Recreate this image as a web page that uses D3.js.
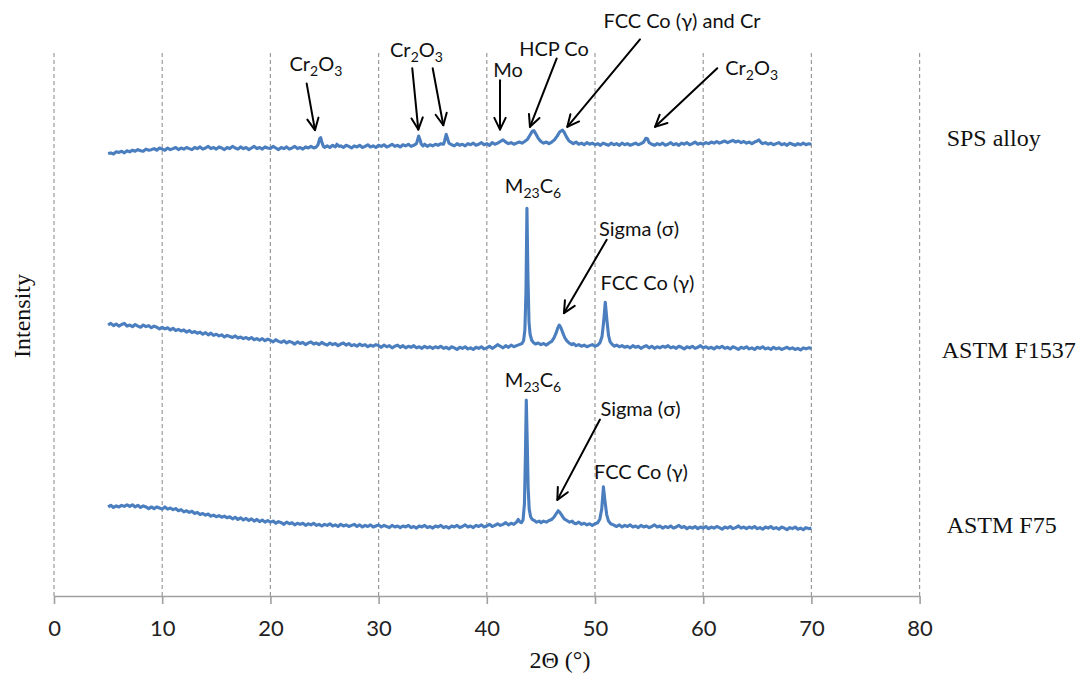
<!DOCTYPE html>
<html>
<head>
<meta charset="utf-8">
<script src="https://cdn.jsdelivr.net/npm/d3@7"></script>
<style>
  body { margin: 0; background: #fff; }
  svg { display: block; }
</style>
</head>
<body>
<svg id="chart" width="1088" height="681"></svg>
<script>
// X-ray diffraction patterns: [2θ (°), intensity (a.u., stacked offsets)]
const xTicks = [0, 10, 20, 30, 40, 50, 60, 70, 80];

const spsAlloy = [
  [5,815],[5.25,816],[5.5,814],[5.75,818],[6,817],[6.25,819],[6.5,816],[6.75,820],[7,818],[7.25,821],[7.5,819],[7.75,822],
  [8,820],[8.25,819],[8.5,823],[8.75,821],[9,822],[9.25,824],[9.5,821],[9.75,825],[10,823],[10.25,821],[10.5,825],[10.75,822],
  [11,824],[11.25,826],[11.5,822],[11.75,825],[12,823],[12.25,826],[12.5,824],[12.75,822],[13,826],[13.25,824],[13.5,827],[13.75,823],
  [14,825],[14.25,828],[14.5,824],[14.75,826],[15,823],[15.25,827],[15.5,825],[15.75,822],[16,826],[16.25,824],[16.5,828],[16.75,825],
  [17,823],[17.25,827],[17.5,824],[17.75,826],[18,822],[18.25,825],[18.5,828],[18.75,824],[19,826],[19.25,823],[19.5,827],[19.75,825],
  [20,824],[20.25,828],[20.5,825],[20.75,822],[21,826],[21.25,824],[21.5,827],[21.75,823],[22,825],[22.25,828],[22.5,824],[22.75,826],
  [23,823],[23.25,827],[23.5,825],[23.75,828],[24,825],[24.25,827],[24.4,831],[24.55,842],[24.65,844],[24.75,836],[24.9,828],[25,826],
  [25.25,829],[25.5,826],[25.75,830],[26,827],[26.15,832],[26.35,828],[26.5,829],[26.75,826],[27,830],[27.25,828],[27.5,825],[27.75,829],
  [28,827],[28.25,830],[28.5,826],[28.75,828],[29,831],[29.25,827],[29.5,829],[29.75,826],[30,830],[30.25,828],[30.5,831],[30.75,827],
  [31,829],[31.25,832],[31.5,828],[31.75,830],[32,827],[32.25,831],[32.5,829],[32.75,832],[33,828],[33.25,830],[33.5,833],[33.6,840],
  [33.7,847],[33.8,842],[33.95,832],[34.1,829],[34.25,832],[34.5,828],[34.75,831],[35,829],[35.25,832],[35.5,830],[35.75,833],[36,832],
  [36.1,838],[36.25,850],[36.35,844],[36.5,834],[36.75,831],[37,829],[37.25,833],[37.5,830],[37.75,832],[38,829],[38.25,833],[38.5,831],
  [38.75,834],[39,830],[39.25,832],[39.5,835],[39.75,831],[40,833],[40.25,830],[40.5,835],[40.75,832],[41,834],[41.25,837],[41.5,840],
  [41.75,836],[42,833],[42.25,835],[42.5,832],[42.75,834],[43,836],[43.25,834],[43.5,837],[43.75,841],[44,849],[44.2,856],[44.35,857],
  [44.5,852],[44.75,843],[45,837],[45.25,834],[45.5,836],[45.75,833],[46,836],[46.25,840],[46.5,847],[46.75,855],[47,858],[47.15,854],
  [47.35,846],[47.6,838],[47.85,835],[48,833],[48.25,836],[48.5,832],[48.75,834],[49,831],[49.25,835],[49.5,832],[49.75,834],[50,831],
  [50.25,833],[50.5,830],[50.75,834],[51,832],[51.25,830],[51.5,834],[51.75,831],[52,833],[52.25,830],[52.5,834],[52.75,831],[53,833],
  [53.25,830],[53.5,832],[53.75,834],[54,831],[54.25,833],[54.5,836],[54.7,843],[54.85,842],[55,835],[55.25,832],[55.5,830],[55.75,833],
  [56,831],[56.25,834],[56.5,830],[56.75,832],[57,835],[57.25,831],[57.5,833],[57.75,830],[58,834],[58.25,832],[58.5,835],[58.75,831],
  [59,833],[59.25,836],[59.5,832],[59.75,834],[60,832],[60.25,835],[60.5,833],[60.75,836],[61,834],[61.25,837],[61.5,834],[61.75,836],
  [62,838],[62.25,835],[62.5,837],[62.75,839],[63,836],[63.25,838],[63.5,835],[63.75,837],[64,834],[64.25,836],[64.5,833],[64.75,836],
  [65,838],[65.15,840],[65.35,835],[65.5,833],[65.75,835],[66,832],[66.25,834],[66.5,831],[66.75,833],[67,835],[67.25,831],[67.5,833],
  [67.75,830],[68,834],[68.25,832],[68.5,830],[68.75,833],[69,831],[69.25,834],[69.5,831],[69.75,833],[70,832]
];

const astmF1537 = [
  [5,499],[5.25,502],[5.5,498],[5.75,501],[6,497],[6.25,500],[6.5,502],[6.75,497],[7,499],[7.25,496],[7.5,500],[7.75,497],
  [8,495],[8.25,499],[8.5,496],[8.75,498],[9,494],[9.25,497],[9.5,495],[9.75,492],[10,495],[10.25,492],[10.5,494],[10.75,490],
  [11,493],[11.25,489],[11.5,491],[11.75,488],[12,490],[12.25,486],[12.5,489],[12.75,485],[13,487],[13.25,484],[13.5,486],[13.75,482],
  [14,485],[14.25,481],[14.5,484],[14.75,480],[15,482],[15.25,479],[15.5,481],[15.75,477],[16,480],[16.25,478],[16.5,476],[16.75,479],
  [17,475],[17.25,477],[17.5,474],[17.75,476],[18,473],[18.25,476],[18.5,472],[18.75,474],[19,471],[19.25,474],[19.5,470],[19.75,473],
  [20,471],[20.25,468],[20.5,472],[20.75,469],[21,467],[21.25,470],[21.5,466],[21.75,469],[22,467],[22.25,464],[22.5,468],[22.75,465],
  [23,467],[23.25,463],[23.5,466],[23.75,468],[24,464],[24.25,466],[24.5,463],[24.75,467],[25,464],[25.25,462],[25.5,466],[25.75,463],
  [26,465],[26.25,461],[26.5,464],[26.75,466],[27,462],[27.25,465],[27.5,461],[27.75,463],[28,460],[28.25,464],[28.5,461],[28.75,463],
  [29,459],[29.25,462],[29.5,460],[29.75,463],[30,461],[30.25,458],[30.5,462],[30.75,459],[31,461],[31.25,457],[31.5,460],[31.75,462],
  [32,458],[32.25,461],[32.5,457],[32.75,460],[33,458],[33.25,461],[33.5,457],[33.75,459],[34,456],[34.25,460],[34.5,457],[34.75,459],
  [35,456],[35.25,459],[35.5,457],[35.75,460],[36,456],[36.25,458],[36.5,455],[36.75,459],[37,457],[37.25,454],[37.5,458],[37.75,456],
  [38,459],[38.25,455],[38.5,457],[38.75,454],[39,458],[39.25,456],[39.5,459],[39.75,455],[40,457],[40.25,460],[40.5,456],[40.75,459],
  [41,463],[41.25,460],[41.5,457],[41.75,461],[42,458],[42.25,462],[42.5,459],[42.75,461],[43,463],[43.25,465],[43.4,470],[43.52,490],
  [43.62,560],[43.71,714],[43.8,590],[43.9,505],[44,482],[44.15,471],[44.3,467],[44.5,464],[44.75,466],[45,463],[45.25,465],[45.5,462],
  [45.75,466],[46,469],[46.2,475],[46.4,484],[46.55,493],[46.7,499],[46.85,494],[47,486],[47.2,476],[47.4,470],[47.6,466],[47.85,463],
  [48,465],[48.25,461],[48.5,463],[48.75,460],[49,462],[49.25,459],[49.5,461],[49.75,463],[50,460],[50.25,462],[50.45,466],[50.65,478],
  [50.8,505],[50.95,541],[51.1,508],[51.25,480],[51.4,468],[51.6,463],[51.8,460],[52,462],[52.25,459],[52.5,461],[52.75,458],[53,460],
  [53.25,457],[53.5,461],[53.75,458],[54,460],[54.25,456],[54.5,459],[54.75,461],[55,457],[55.25,460],[55.5,456],[55.75,459],[56,457],
  [56.25,460],[56.5,458],[56.75,461],[57,457],[57.25,459],[57.5,456],[57.75,460],[58,458],[58.25,455],[58.5,459],[58.75,457],[59,460],
  [59.25,456],[59.5,458],[59.75,461],[60,457],[60.25,459],[60.5,456],[60.75,458],[61,455],[61.25,459],[61.5,457],[61.75,460],[62,456],
  [62.25,458],[62.5,455],[62.75,459],[63,457],[63.25,454],[63.5,458],[63.75,456],[64,459],[64.25,455],[64.5,457],[64.75,454],[65,458],
  [65.25,456],[65.5,459],[65.75,455],[66,457],[66.25,454],[66.5,458],[66.75,455],[67,457],[67.25,454],[67.5,456],[67.75,458],[68,455],
  [68.25,457],[68.5,454],[68.75,456],[69,453],[69.25,457],[69.5,455],[69.75,457],[70,456]
];

const astmF75 = [
  [5,164],[5.25,167],[5.5,163],[5.75,166],[6,164],[6.25,167],[6.5,165],[6.75,168],[7,165],[7.25,168],[7.5,164],[7.75,167],
  [8,163],[8.25,166],[8.5,164],[8.75,161],[9,164],[9.25,161],[9.5,164],[9.75,162],[10,160],[10.25,164],[10.5,160],[10.75,162],
  [11,159],[11.25,161],[11.5,157],[11.75,159],[12,155],[12.25,157],[12.5,154],[12.75,156],[13,152],[13.25,154],[13.5,150],[13.75,152],
  [14,149],[14.25,151],[14.5,147],[14.75,149],[15,146],[15.25,148],[15.5,145],[15.75,147],[16,144],[16.25,146],[16.5,142],[16.75,145],
  [17,141],[17.25,144],[17.5,140],[17.75,143],[18,139],[18.25,142],[18.5,138],[18.75,141],[19,137],[19.25,140],[19.5,136],[19.75,139],
  [20,136],[20.25,138],[20.5,134],[20.75,137],[21,135],[21.25,132],[21.5,136],[21.75,133],[22,135],[22.25,131],[22.5,134],[22.75,132],
  [23,134],[23.25,130],[23.5,133],[23.75,131],[24,134],[24.25,130],[24.5,132],[24.75,129],[25,132],[25.25,130],[25.5,133],[25.75,129],
  [26,131],[26.25,128],[26.5,132],[26.75,129],[27,131],[27.25,128],[27.5,130],[27.75,132],[28,128],[28.25,131],[28.5,127],[28.75,130],
  [29,128],[29.25,131],[29.5,127],[29.75,129],[30,131],[30.25,127],[30.5,130],[30.75,128],[31,126],[31.25,130],[31.5,127],[31.75,129],
  [32,126],[32.25,129],[32.5,127],[32.75,130],[33,126],[33.25,128],[33.5,125],[33.75,129],[34,127],[34.25,130],[34.5,126],[34.75,128],
  [35,125],[35.25,129],[35.5,127],[35.75,130],[36,126],[36.25,128],[36.5,125],[36.75,129],[37,127],[37.25,130],[37.5,126],[37.75,128],
  [38,131],[38.25,127],[38.5,129],[38.75,126],[39,130],[39.25,128],[39.5,131],[39.75,127],[40,129],[40.25,132],[40.5,128],[40.75,130],
  [41,133],[41.25,130],[41.5,132],[41.75,135],[42,131],[42.25,134],[42.5,132],[42.75,136],[42.9,141],[43.05,137],[43.2,135],[43.35,140],
  [43.48,170],[43.57,260],[43.65,361],[43.73,290],[43.82,200],[43.92,160],[44.05,146],[44.2,141],[44.4,139],[44.6,136],[44.85,138],[45,135],
  [45.25,138],[45.5,136],[45.75,139],[46,141],[46.2,145],[46.4,151],[46.6,157],[46.75,154],[46.95,148],[47.15,142],[47.4,139],[47.65,136],
  [47.9,138],[48,135],[48.25,133],[48.5,136],[48.75,132],[49,134],[49.25,131],[49.5,133],[49.75,130],[50,133],[50.25,135],[50.45,142],
  [50.62,160],[50.78,201],[50.92,175],[51.08,150],[51.25,138],[51.45,133],[51.7,131],[52,128],[52.25,131],[52.5,127],[52.75,130],[53,128],
  [53.25,131],[53.5,127],[53.75,129],[54,126],[54.25,130],[54.5,127],[54.75,129],[55,126],[55.25,128],[55.5,131],[55.75,127],[56,129],
  [56.25,125],[56.5,128],[56.75,126],[57,129],[57.25,125],[57.5,127],[57.75,130],[58,126],[58.25,128],[58.5,124],[58.75,127],[59,125],
  [59.25,128],[59.5,124],[59.75,127],[60,125],[60.25,128],[60.5,124],[60.75,127],[61,125],[61.25,128],[61.5,126],[61.75,123],[62,127],
  [62.25,125],[62.5,128],[62.75,124],[63,126],[63.25,129],[63.5,125],[63.75,127],[64,124],[64.25,127],[64.5,125],[64.75,128],[65,124],
  [65.25,126],[65.5,123],[65.75,127],[66,125],[66.25,128],[66.5,124],[66.75,126],[67,123],[67.25,127],[67.5,125],[67.75,122],[68,126],
  [68.25,124],[68.5,127],[68.75,123],[69,125],[69.25,122],[69.5,126],[69.75,124],[70,125]
];

const seriesNames = ["SPS alloy", "ASTM F1537", "ASTM F75"];
// anchor of each series name, in [2θ, intensity]
const seriesNameAnchors = [[82.5, 829], [82.05, 438], [82.5, 116]];

// phase labels: text parts ([text, isSubscript]) and anchor [2θ, intensity]
const peakLabels = [
  { parts: [["Cr",0],["2",1],["O",0],["3",1]], at: [24.2, 967] },
  { parts: [["Cr",0],["2",1],["O",0],["3",1]], at: [33.5, 993] },
  { parts: [["Mo",0]], at: [41.96, 956] },
  { parts: [["HCP Co",0]], at: [46.21, 994] },
  { parts: [["FCC Co (γ) and Cr",0]], at: [58.04, 1046] },
  { parts: [["Cr",0],["2",1],["O",0],["3",1]], at: [64.48, 959] },
  { parts: [["M",0],["23",1],["C",0],["6",1]], at: [44.27, 742] },
  { parts: [["Sigma (σ)",0]], at: [54.07, 663] },
  { parts: [["FCC Co (γ)",0]], at: [54.85, 564] },
  { parts: [["M",0],["23",1],["C",0],["6",1]], at: [44.27, 385] },
  { parts: [["Sigma (σ)",0]], at: [54.2, 331] },
  { parts: [["FCC Co (γ)",0]], at: [54.25, 215] }
];

// pointer arrows: [from 2θ, from I, to 2θ, to I]
const peakArrows = [
  [23.35, 944, 24.12, 858],
  [33.11, 972, 33.67, 859],
  [35.0, 972, 35.98, 867],
  [41.22, 950, 41.22, 859],
  [46.46, 990, 43.99, 864],
  [54.16, 1025, 47.44, 864],
  [61.3, 972, 55.55, 864],
  [51.08, 656, 47.13, 521],
  [50.46, 325, 46.52, 177]
];

const plot = { left: 54, right: 919.6, top: 53, bottom: 596 };

const svg = d3.select("#chart");
const x = d3.scaleLinear().domain([0, 80]).range([plot.left, plot.right]);
const y = d3.scaleLinear().domain([0, 1000]).range([plot.bottom, plot.top]);

// dashed vertical gridlines
svg.append("g")
  .selectAll("line")
  .data(xTicks)
  .join("line")
  .attr("x1", d => x(d)).attr("x2", d => x(d))
  .attr("y1", y(0)).attr("y2", y(1000))
  .attr("stroke", "#9a9a9a")
  .attr("stroke-width", 1.2)
  .attr("stroke-dasharray", "4,3");

// bottom axis
const xAxis = svg.append("g")
  .attr("transform", `translate(0,${plot.bottom})`)
  .call(d3.axisBottom(x).tickValues(xTicks).tickSize(8).tickPadding(16).tickSizeOuter(0));
xAxis.select(".domain").attr("stroke", "#a0a0a0").attr("stroke-width", 1.6);
xAxis.selectAll(".tick line").attr("stroke", "#a0a0a0").attr("stroke-width", 1.6);
xAxis.selectAll(".tick text")
  .attr("font-family", "Lato, sans-serif")
  .attr("font-size", 22)
  .attr("fill", "#222");

// axis titles
svg.append("text")
  .attr("x", 560).attr("y", 668)
  .attr("text-anchor", "middle")
  .attr("font-family", "'Liberation Serif', 'Times New Roman', serif")
  .attr("font-size", 24)
  .attr("fill", "#111")
  .text("2Θ (°)");

svg.append("text")
  .attr("transform", "translate(30,316) rotate(-90)")
  .attr("text-anchor", "middle")
  .attr("font-family", "'Liberation Serif', 'Times New Roman', serif")
  .attr("font-size", 24)
  .attr("fill", "#111")
  .text("Intensity");

// diffraction curves
const line = d3.line().x(d => x(d[0])).y(d => y(d[1]));
svg.append("g")
  .selectAll("path")
  .data([spsAlloy, astmF1537, astmF75])
  .join("path")
  .attr("d", line)
  .attr("fill", "none")
  .attr("stroke", "#4a7ebf")
  .attr("stroke-width", 3.1)
  .attr("stroke-linejoin", "round");

// series names
svg.append("g")
  .selectAll("text")
  .data(seriesNames)
  .join("text")
  .attr("x", (d, i) => x(seriesNameAnchors[i][0]))
  .attr("y", (d, i) => y(seriesNameAnchors[i][1]))
  .attr("font-family", "'Liberation Serif', 'Times New Roman', serif")
  .attr("font-size", 24)
  .attr("fill", "#111")
  .text(d => d);

// phase labels
const labels = svg.append("g")
  .attr("font-family", "Lato, sans-serif")
  .attr("font-size", 20)
  .attr("fill", "#111")
  .selectAll("text")
  .data(peakLabels)
  .join("text")
  .attr("x", d => x(d.at[0]))
  .attr("y", d => y(d.at[1]))
  .attr("text-anchor", "middle");
labels.each(function (d) {
  const t = d3.select(this);
  let shifted = false;
  d.parts.forEach(([txt, sub]) => {
    const span = t.append("tspan").text(txt);
    if (sub && !shifted) { span.attr("dy", 5).attr("font-size", 14); shifted = true; }
    else if (sub) { span.attr("font-size", 14); }
    else if (!sub && shifted) { span.attr("dy", -5); shifted = false; }
  });
});

// arrows with open chevron heads
const arrows = svg.append("g")
  .attr("stroke", "#000")
  .attr("stroke-width", 2)
  .attr("fill", "none")
  .attr("stroke-linecap", "round")
  .attr("stroke-linejoin", "round");
peakArrows.forEach(a => {
  const x1 = x(a[0]), y1 = y(a[1]), x2 = x(a[2]), y2 = y(a[3]);
  const ang = Math.atan2(y2 - y1, x2 - x1);
  const len = 13, spread = 0.45;
  const hx1 = x2 - len * Math.cos(ang - spread), hy1 = y2 - len * Math.sin(ang - spread);
  const hx2 = x2 - len * Math.cos(ang + spread), hy2 = y2 - len * Math.sin(ang + spread);
  arrows.append("path").attr("d", `M${x1},${y1}L${x2},${y2}`);
  arrows.append("path").attr("d", `M${hx1},${hy1}L${x2},${y2}L${hx2},${hy2}`);
});
</script>
</body>
</html>
